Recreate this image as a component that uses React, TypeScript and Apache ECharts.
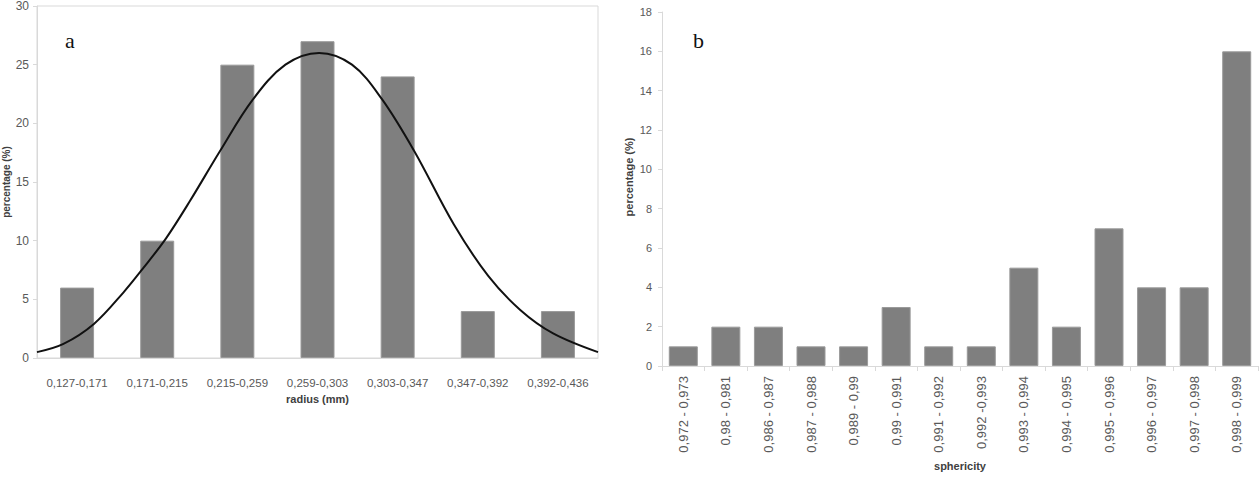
import React, { useEffect, useRef } from "react";
import * as echarts from "echarts";

const radiusCategories = ["0,127-0,171", "0,171-0,215", "0,215-0,259", "0,259-0,303", "0,303-0,347", "0,347-0,392", "0,392-0,436"];
const radiusValues = [6, 10, 25, 27, 24, 4, 4];
const curveX = [-0.5, -0.17, 0.21, 0.58, 0.83, 1.11, 1.41, 1.78, 2.19, 2.6, 3.02, 3.43, 3.8, 4.21, 4.7, 5.13, 5.53, 5.94, 6.5];
const curveY = [0.5, 1.2, 2.9, 5.6, 7.7, 10.2, 13.4, 17.6, 22.0, 25.0, 26.0, 25.0, 22.1, 17.6, 11.4, 7.0, 4.1, 2.1, 0.5];
const sphericityCategories = ["0,972 - 0,973", "0,98 - 0,981", "0,986 - 0,987", "0,987 - 0,988", "0,989 - 0,99", "0,99 - 0,991", "0,991 - 0,992", "0,992 -0,993", "0,993 - 0,994", "0,994 - 0,995", "0,995 - 0,996", "0,996 - 0,997", "0,997 - 0,998", "0,998 - 0,999"];
const sphericityValues = [1, 2, 2, 1, 1, 3, 1, 1, 5, 2, 7, 4, 4, 16];

const FONT = "Liberation Sans";
const LABEL = "#595959";
const AXIS = "#d9d9d9";
const BAR = "#7f7f7f";

export default function App() {
  const ref = useRef<HTMLDivElement>(null);
  useEffect(() => {
    if (!ref.current) return;
    const chart = echarts.init(ref.current, undefined, { renderer: "svg" });
    chart.setOption({
      animation: false,
      backgroundColor: "#ffffff",
      textStyle: { fontFamily: FONT },
      grid: [
        { left: 33, top: 4, width: 565, height: 354, show: true, borderColor: AXIS, borderWidth: 1, backgroundColor: "transparent" },
        { left: 662, top: 12, width: 596, height: 354 },
      ],
      xAxis: [
        {
          type: "category", gridIndex: 0, data: radiusCategories,
          axisLine: { lineStyle: { color: AXIS } }, axisTick: { show: false },
          axisLabel: { color: LABEL, fontSize: 11.5, margin: 19, interval: 0, fontFamily: FONT },
          name: "radius (mm)", nameLocation: "middle", nameGap: 31,
          nameTextStyle: { color: "#404040", fontWeight: "bold", fontSize: 11, fontFamily: FONT },
        },
        { type: "value", gridIndex: 0, min: -0.5, max: 6.5, show: false },
        {
          type: "category", gridIndex: 1, data: sphericityCategories,
          axisLine: { lineStyle: { color: AXIS } },
          axisTick: { show: true, alignWithLabel: false, length: 5, lineStyle: { color: AXIS } },
          axisLabel: { color: LABEL, fontSize: 13, rotate: 90, margin: 10, interval: 0, fontFamily: FONT },
          name: "sphericity", nameLocation: "middle", nameGap: 92,
          nameTextStyle: { color: "#404040", fontWeight: "bold", fontSize: 11, fontFamily: FONT },
        },
      ],
      yAxis: [
        {
          type: "value", gridIndex: 0, min: 0, max: 30, interval: 5,
          axisLine: { show: true, onZero: false, lineStyle: { color: AXIS } },
          axisTick: { show: true, length: 4, lineStyle: { color: AXIS } },
          splitLine: { show: false },
          axisLabel: { color: LABEL, fontSize: 12, margin: 8, fontFamily: FONT },
          name: "percentage (%)", nameLocation: "middle", nameGap: 26,
          nameTextStyle: { color: "#404040", fontWeight: "bold", fontSize: 10, fontFamily: FONT },
        },
        {
          type: "value", gridIndex: 1, min: 0, max: 18, interval: 2,
          axisLine: { show: true, onZero: false, lineStyle: { color: AXIS } },
          axisTick: { show: true, length: 4, lineStyle: { color: AXIS } },
          splitLine: { show: false },
          axisLabel: { color: LABEL, fontSize: 11, margin: 10, fontFamily: FONT },
          name: "percentage (%)", nameLocation: "middle", nameGap: 28,
          nameTextStyle: { color: "#404040", fontWeight: "bold", fontSize: 11, fontFamily: FONT, padding: [0, 0, 0, 24] },
        },
      ],
      series: [
        {
          type: "bar", xAxisIndex: 0, yAxisIndex: 0, data: radiusValues, barWidth: 34,
          itemStyle: { color: BAR, borderColor: "#9a9a9a", borderWidth: 1 },
        },
        {
          type: "line", xAxisIndex: 1, yAxisIndex: 0,
          data: curveX.map((x, i) => [x, curveY[i]]),
          smooth: 0.35, showSymbol: false, symbol: "none",
          lineStyle: { color: "#111111", width: 2 },
        },
        {
          type: "bar", xAxisIndex: 2, yAxisIndex: 1, data: sphericityValues, barWidth: 29,
          itemStyle: { color: BAR, borderColor: "#9a9a9a", borderWidth: 1 },
        },
      ],
      graphic: [
        { type: "text", left: 65, top: 29, style: { text: "a", font: "22px 'Liberation Serif'", fill: "#111111" } },
        { type: "text", left: 693, top: 29, style: { text: "b", font: "22px 'Liberation Serif'", fill: "#111111" } },
      ],
    });
    return () => chart.dispose();
  }, []);
  return <div ref={ref} style={{ position: "fixed", left: 0, top: 0, width: 1260, height: 487 }} />;
}
